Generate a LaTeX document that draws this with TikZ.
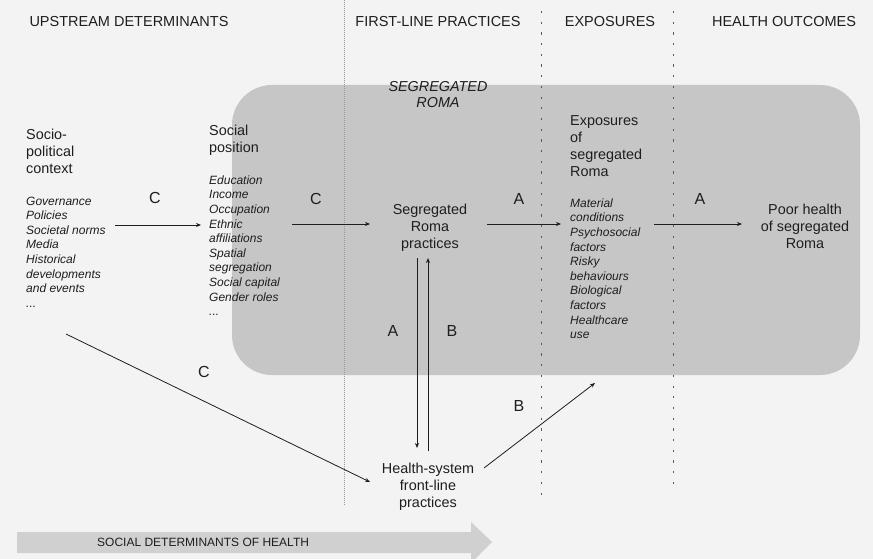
\documentclass[tikz,border=0pt]{standalone}
\usepackage{fontspec}
\setmainfont{Liberation Sans}
\usetikzlibrary{arrows.meta}
\definecolor{bg}{HTML}{F3F3F3}
\definecolor{boxgray}{HTML}{C6C6C6}
\definecolor{arrowgray}{HTML}{D0D0D0}
\definecolor{ink}{HTML}{1E1E1E}
\definecolor{divider}{HTML}{5A5A5A}
\begin{document}
\begin{tikzpicture}[x=1pt,y=-1pt,
  head/.style={font=\fontsize{14.5}{17}\selectfont, text=ink, inner sep=0},
  title/.style={font=\fontsize{14.4}{17}\selectfont, text=ink, inner sep=0, align=left, anchor=north west},
  ctitle/.style={title, align=center, anchor=north},
  list/.style={font=\fontsize{12}{14.6}\selectfont\itshape, text=ink, inner sep=0, align=left, anchor=north west},
  lab/.style={font=\fontsize{16}{16}\selectfont, text=ink, inner sep=0},
  conn/.style={draw=ink, line width=0.8pt, -{Stealth[length=5pt,width=4pt]}},
  fine/.style={draw=gray!80, line width=0.8pt, dash pattern=on 0.6pt off 1.4pt},
  coarse/.style={draw=divider, line width=1pt, dash pattern=on 2.2pt off 8.5pt},
]
\fill[bg] (0,0) rectangle (873,559);
\useasboundingbox (0,0) rectangle (873,559);
% segregated Roma box
\fill[boxgray, rounded corners=40pt] (232,85) rectangle (860,375);
% big arrow
\fill[arrowgray] (17,532) -- (471,532) -- (471,522) -- (492,542) -- (471,563) -- (471,553) -- (17,553) -- cycle;
\node[font=\fontsize{12}{14}\selectfont, text=ink, inner sep=0, anchor=west] (sdh) at (97,542) {SOCIAL DETERMINANTS OF HEALTH};
% dividers
\draw[fine] (344,0) -- (344,505);
\draw[coarse] (541,11) -- (541,500);
\draw[coarse] (673,11) -- (673,492);
% headers
\node[head] (h1) at (129,22) {UPSTREAM DETERMINANTS};
\node[head] (h2) at (438,22) {FIRST-LINE PRACTICES};
\node[head] (h3) at (610,22) {EXPOSURES};
\node[head] (h4) at (784,22) {HEALTH OUTCOMES};
% box title
\node[ctitle, font=\fontsize{14.4}{16}\selectfont\itshape] (seg) at (438,81.7) {SEGREGATED\\ROMA};
% socio-political
\node[title] (spt) at (26,128.7) {Socio-\\political\\context};
\node[list] (spl) at (26,196.5) {Governance\\Policies\\Societal norms\\Media\\Historical\\developments\\and events\\...};
% social position
\node[title] (pst) at (209,124.7) {Social\\position};
\node[list] (psl) at (209,175.5) {Education\\Income\\Occupation\\Ethnic\\affiliations\\Spatial\\segregation\\Social capital\\Gender roles\\...};
% segregated roma practices
\node[ctitle] (roma) at (430,204) {Segregated\\Roma\\practices};
% exposures
\node[title] (ext) at (570,115.7) {Exposures\\of\\segregated\\Roma};
\node[list] (exl) at (570,198.5) {Material\\conditions\\Psychosocial\\factors\\Risky\\behaviours\\Biological\\factors\\Healthcare\\use};
% poor health
\node[ctitle] (poor) at (805,203.7) {Poor health\\of segregated\\Roma};
% health system
\node[ctitle] (hs) at (428,462.7) {Health-system\\front-line\\practices};
% arrow endpoints
\coordinate (c1s) at (115,225); \coordinate (c1e) at (201,225);
\coordinate (c2s) at (292,224); \coordinate (c2e) at (370,224);
\coordinate (a1s) at (487,224); \coordinate (a1e) at (561,224);
\coordinate (a2s) at (654,224); \coordinate (a2e) at (742,224);
\coordinate (dns) at (417,258); \coordinate (dne) at (417,448);
\coordinate (ups) at (428,451); \coordinate (upe) at (428,258);
\coordinate (c3s) at (66,334); \coordinate (c3e) at (370,482);
\coordinate (b2s) at (484,468); \coordinate (b2e) at (595,383);
\draw[conn] (c1s) -- (c1e);
\draw[conn] (c2s) -- (c2e);
\draw[conn] (a1s) -- (a1e);
\draw[conn] (a2s) -- (a2e);
\draw[conn] (dns) -- (dne);
\draw[conn] (ups) -- (upe);
\draw[conn] (c3s) -- (c3e);
\draw[conn] (b2s) -- (b2e);
% labels
\node[lab] (lc1) at (155,198) {C};
\node[lab] (lc2) at (316,199) {C};
\node[lab] (la1) at (519,199) {A};
\node[lab] (la2) at (700,199) {A};
\node[lab] (la3) at (393,331) {A};
\node[lab] (lb1) at (452,331) {B};
\node[lab] (lc3) at (204,372) {C};
\node[lab] (lb2) at (519,406) {B};
\end{tikzpicture}
\end{document}
